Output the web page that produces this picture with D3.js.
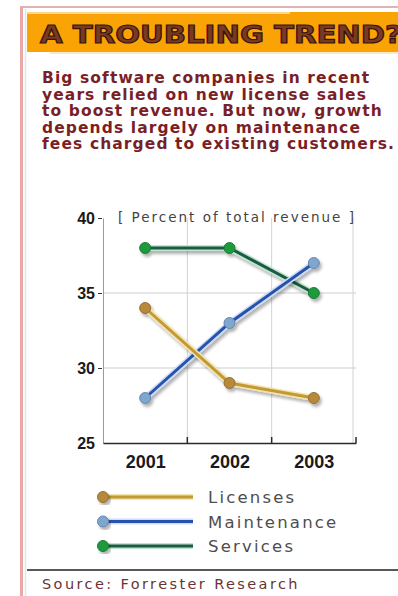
<!DOCTYPE html>
<html>
<head>
<meta charset="utf-8">
<script src="https://cdn.jsdelivr.net/npm/d3@7"></script>
<style>
  body { margin: 0; background: #ffffff; }
  svg { display: block; }
</style>
</head>
<body>
<div id="chart"></div>
<script>
const width = 398;
const height = 596;

// data
const years = ['2001', '2002', '2003'];
const licenses = [34, 29, 28];
const maintenance = [28, 33, 37];
const services = [38, 38, 35];
const yTicks = [25, 30, 35, 40];
const seriesNames = ['Licenses', 'Maintenance', 'Services'];
const titleText = 'A TROUBLING TREND?';
const descLines = [
    'Big software companies in recent',
    'years relied on new license sales',
    'to boost revenue. But now, growth',
    'depends largely on maintenance',
    'fees charged to existing customers.'
];
const unitLabel = '[ Percent of total revenue ]';
const sourceText = 'Source: Forrester Research';

const series = [
    { name: 'Services', values: services, line: '#1d5a44', dot: '#1f9a3e', halo: '#bfe6cf' },
    { name: 'Maintenance', values: maintenance, line: '#2552ae', dot: '#7ea6cf', halo: '#cfdcf6' },
    { name: 'Licenses', values: licenses, line: '#c29a32', dot: '#b7893a', halo: '#f3e3b0' }
];
const legendOrder = seriesNames.map((n) => series.find((s) => s.name === n));

const svg = d3.select('#chart')
    .append('svg')
    .attr('width', width)
    .attr('height', height);

const defs = svg.append('defs');
const shadow = defs.append('filter')
    .attr('id', 'shadow')
    .attr('x', '-20%').attr('y', '-20%')
    .attr('width', '140%').attr('height', '140%');
shadow.append('feDropShadow')
    .attr('dx', 2).attr('dy', 3)
    .attr('stdDeviation', 1.6)
    .attr('flood-color', '#000')
    .attr('flood-opacity', 0.3);

// frame
svg.append('rect')
    .attr('x', 0).attr('y', 0)
    .attr('width', width).attr('height', height)
    .attr('fill', '#ffffff');

svg.append('line')
    .attr('x1', 20).attr('x2', width)
    .attr('y1', 7).attr('y2', 7)
    .attr('stroke', '#d99a96').attr('stroke-width', 1.5);

svg.append('line')
    .attr('x1', 21.5).attr('x2', 21.5)
    .attr('y1', 7).attr('y2', height)
    .attr('stroke', '#e8a9a6').attr('stroke-width', 3);

svg.append('line')
    .attr('x1', 25.5).attr('x2', 25.5)
    .attr('y1', 9).attr('y2', height)
    .attr('stroke', '#dbe8f2').attr('stroke-width', 1.5);

// title band
svg.append('rect')
    .attr('x', 27).attr('y', 12)
    .attr('width', width - 27).attr('height', 40)
    .attr('fill', '#f9a404');

svg.append('line')
    .attr('x1', 27).attr('x2', 290)
    .attr('y1', 13).attr('y2', 13)
    .attr('stroke', '#fde7b8').attr('stroke-width', 1.5);

svg.append('line')
    .attr('x1', 50).attr('x2', width)
    .attr('y1', 53).attr('y2', 53)
    .attr('stroke', '#fbe9c6').attr('stroke-width', 2);

svg.append('text')
    .attr('x', 40)
    .attr('y', 43)
    .attr('font-family', 'DejaVu Sans, sans-serif')
    .attr('font-weight', 'bold')
    .attr('font-size', 25)
    .attr('textLength', 362)
    .attr('lengthAdjust', 'spacingAndGlyphs')
    .attr('fill', '#7a3a22')
    .attr('stroke', '#3a140c')
    .attr('stroke-width', 1.2)
    .text(titleText);

// description
svg.append('g')
    .selectAll('text')
    .data(descLines)
    .enter()
    .append('text')
    .attr('x', 42)
    .attr('y', (d, i) => 83 + i * 16.6)
    .attr('font-family', 'DejaVu Sans, sans-serif')
    .attr('font-weight', 'bold')
    .attr('font-size', 15.5)
    .attr('letter-spacing', 1.1)
    .attr('fill', '#7a1f28')
    .text((d) => d);

// scales
const x = d3.scalePoint()
    .domain(years)
    .range([103, 356])
    .padding(0.5);

const y = d3.scaleLinear()
    .domain([25, 40])
    .range([443, 218]);

const step = x.step();
const bounds = years.map((d) => x(d) + step / 2);

// grid
svg.append('g')
    .selectAll('line')
    .data(yTicks.filter((d) => d > 25 && d < 40))
    .enter()
    .append('line')
    .attr('x1', 103).attr('x2', 356)
    .attr('y1', (d) => y(d)).attr('y2', (d) => y(d))
    .attr('stroke', '#cfcfcf').attr('stroke-width', 1);

svg.append('g')
    .selectAll('line')
    .data(bounds)
    .enter()
    .append('line')
    .attr('x1', (d, i) => i === bounds.length - 1 ? d - 3 : d)
    .attr('x2', (d, i) => i === bounds.length - 1 ? d - 3 : d)
    .attr('y1', y(40)).attr('y2', y(25))
    .attr('stroke', '#d2d2d2').attr('stroke-width', 1);

// y axis
const yAxis = svg.append('g')
    .attr('transform', 'translate(103,0)')
    .call(d3.axisLeft(y).tickValues(yTicks).tickSize(4).tickSizeOuter(0).tickPadding(4));
yAxis.select('.domain').attr('stroke', '#9a9a9a');
yAxis.selectAll('.tick line').attr('stroke', '#333').attr('transform', 'translate(-1,0)');
yAxis.selectAll('.tick text')
    .attr('font-family', 'Liberation Sans Narrow, Liberation Sans, sans-serif')
    .attr('font-weight', 'bold')
    .attr('font-size', 16)
    .attr('fill', '#1a1a1a');
yAxis.selectAll('.tick').filter((d) => d === 25).select('line').remove();

// x axis
const xAxis = svg.append('g')
    .attr('transform', 'translate(0,443)')
    .call(d3.axisBottom(x).tickSize(0).tickPadding(12));
xAxis.select('.domain').attr('stroke', '#2a2a2a').attr('stroke-width', 1.5);
xAxis.selectAll('.tick text')
    .attr('font-family', 'Liberation Sans, sans-serif')
    .attr('font-weight', 'bold')
    .attr('font-size', 18)
    .attr('fill', '#1a1a1a');
xAxis.append('g')
    .selectAll('line')
    .data(bounds)
    .enter()
    .append('line')
    .attr('x1', (d) => d).attr('x2', (d) => d)
    .attr('y1', 0).attr('y2', -6)
    .attr('stroke', '#2a2a2a').attr('stroke-width', 1.5);

// unit label
svg.append('text')
    .attr('x', 118)
    .attr('y', y(40) + 4)
    .attr('font-family', 'DejaVu Sans, sans-serif')
    .attr('font-size', 13.5)
    .attr('letter-spacing', 2)
    .attr('fill', '#444')
    .text(unitLabel);

// lines
const line = d3.line()
    .x((d, i) => x(years[i]))
    .y((d) => y(d));

const seriesG = svg.append('g')
    .selectAll('g')
    .data(series)
    .enter()
    .append('g')
    .attr('filter', 'url(#shadow)');

seriesG.append('path')
    .attr('d', (d) => line(d.values))
    .attr('fill', 'none')
    .attr('stroke', (d) => d.halo)
    .attr('stroke-width', 6);

seriesG.append('path')
    .attr('d', (d) => line(d.values))
    .attr('fill', 'none')
    .attr('stroke', (d) => d.line)
    .attr('stroke-width', 3);

seriesG.selectAll('circle')
    .data((d) => d.values.map((v, i) => ({ v: v, i: i, s: d })))
    .enter()
    .append('circle')
    .attr('cx', (d) => x(years[d.i]))
    .attr('cy', (d) => y(d.v))
    .attr('r', 5.5)
    .attr('fill', (d) => d.s.dot)
    .attr('stroke', (d) => d3.color(d.s.dot).darker(0.6))
    .attr('stroke-width', 1);

// legend
const legend = svg.append('g')
    .selectAll('g')
    .data(legendOrder)
    .enter()
    .append('g')
    .attr('transform', (d, i) => 'translate(0,' + (497 + i * 24.5) + ')');

legend.append('line')
    .attr('x1', 100).attr('x2', 193)
    .attr('y1', 0).attr('y2', 0)
    .attr('stroke', (d) => d.halo)
    .attr('stroke-width', 6);

legend.append('line')
    .attr('x1', 100).attr('x2', 193)
    .attr('y1', 0).attr('y2', 0)
    .attr('stroke', (d) => d.line)
    .attr('stroke-width', 3);

legend.append('circle')
    .attr('cx', 103)
    .attr('cy', 0)
    .attr('r', 5.5)
    .attr('fill', (d) => d.dot)
    .attr('stroke', (d) => d3.color(d.dot).darker(0.6))
    .attr('filter', 'url(#shadow)');

legend.append('text')
    .attr('x', 208)
    .attr('y', 6)
    .attr('font-family', 'DejaVu Sans, sans-serif')
    .attr('font-size', 16.5)
    .attr('letter-spacing', 2.2)
    .attr('fill', '#4e4e4e')
    .text((d) => d.name);

// source
svg.append('line')
    .attr('x1', 27).attr('x2', width)
    .attr('y1', 570).attr('y2', 570)
    .attr('stroke', '#222').attr('stroke-width', 1.5);

svg.append('text')
    .attr('x', 42)
    .attr('y', 589)
    .attr('font-family', 'DejaVu Sans, sans-serif')
    .attr('font-size', 14.5)
    .attr('letter-spacing', 2.4)
    .attr('fill', '#6a3434')
    .text(sourceText);
</script>
</body>
</html>
